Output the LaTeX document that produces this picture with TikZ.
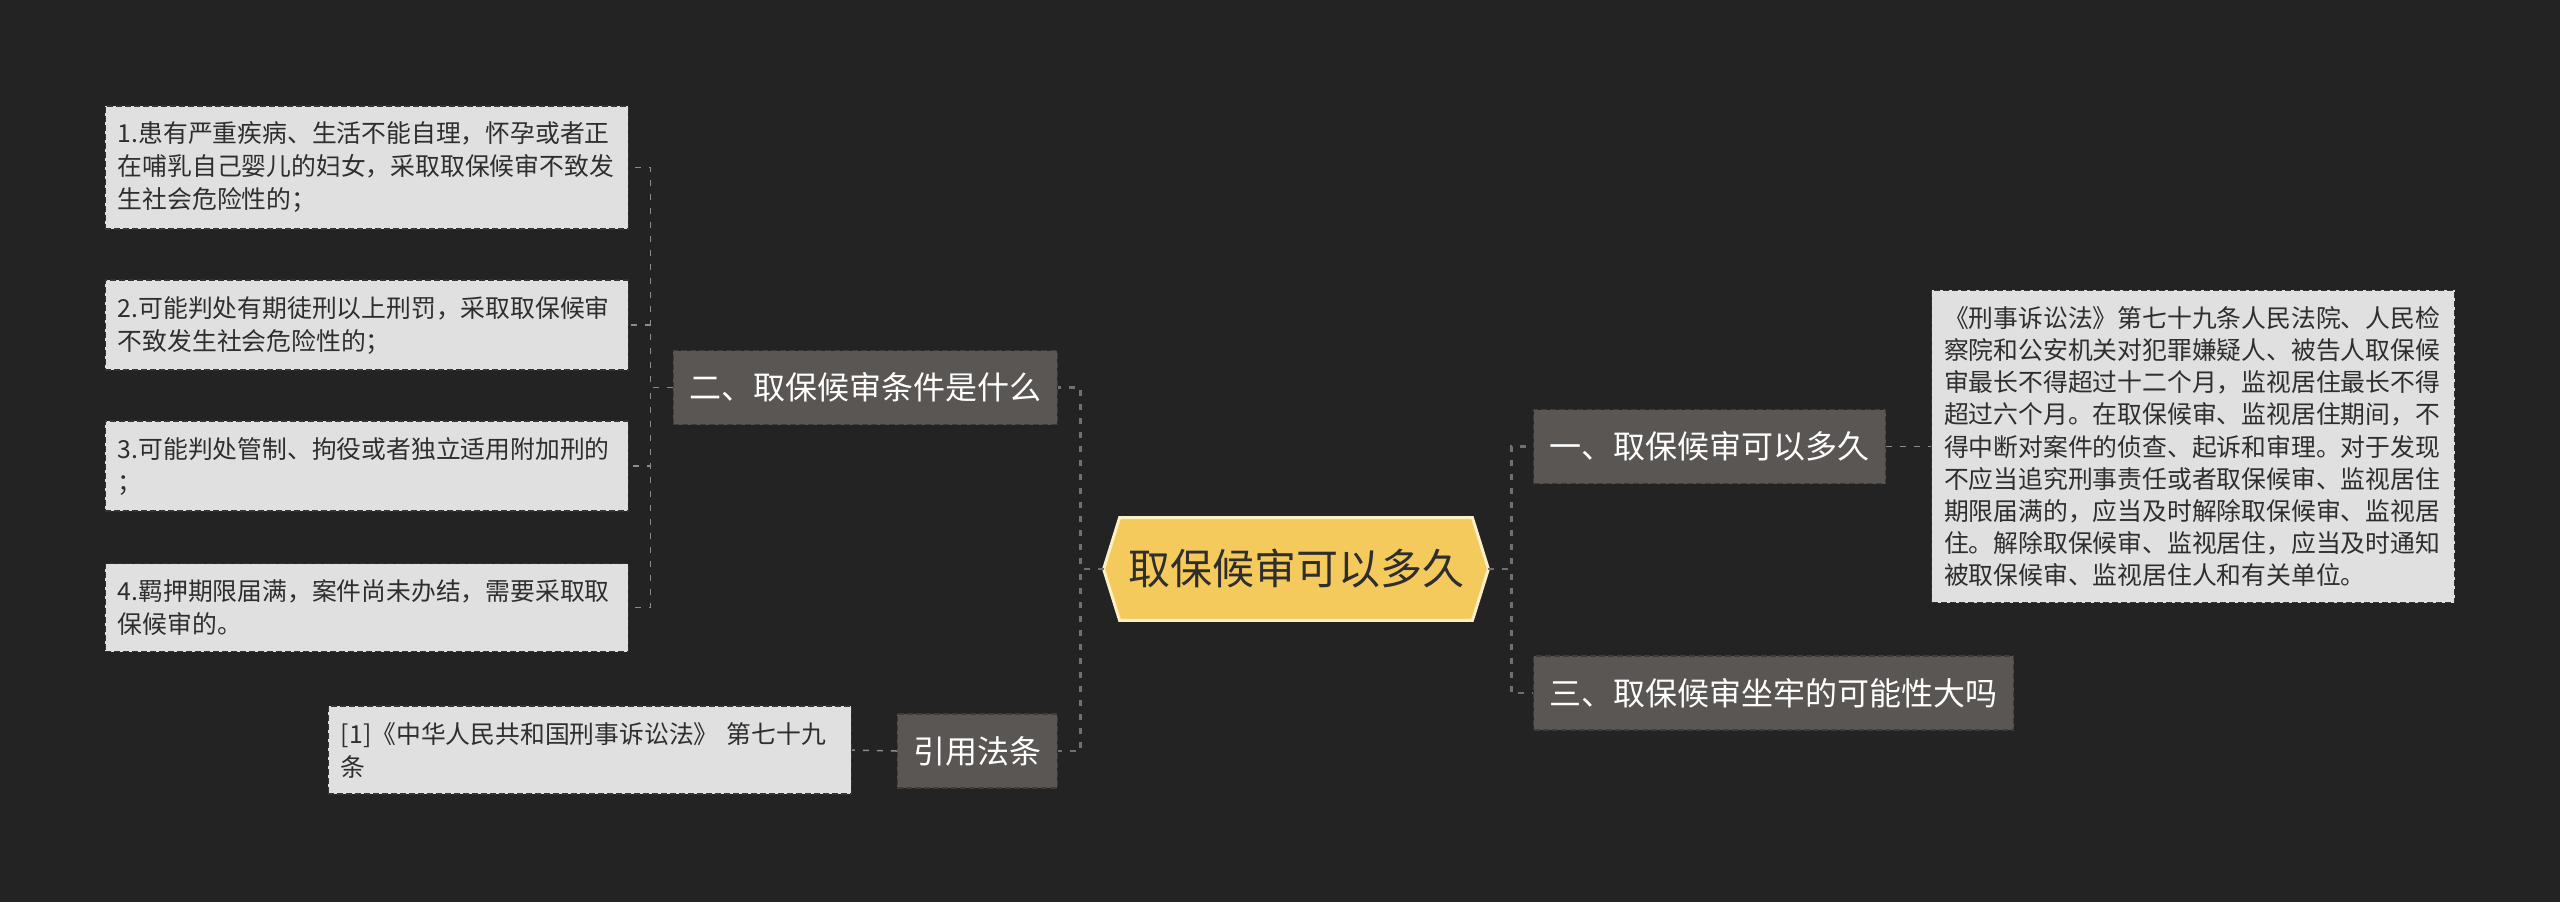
\documentclass[tikz,border=0pt]{standalone}
\usepackage{fontspec}
\newfontfamily\cjk{Noto Sans CJK SC}
\usepackage{tikz}
\usetikzlibrary{backgrounds}

\definecolor{bgdark}{HTML}{232323}
\definecolor{midgray}{HTML}{5A5654}
\definecolor{midedge}{HTML}{3E3C3B}
\definecolor{leafgray}{HTML}{E0E0E0}
\definecolor{leafedge}{HTML}{333333}
\definecolor{rootyellow}{HTML}{F5CA5C}
\definecolor{rootedge}{HTML}{FBEFC6}
\definecolor{linkgray}{HTML}{707070}
\definecolor{twiggray}{HTML}{8C8C8C}
\definecolor{textdark}{HTML}{2E2E2E}

\begin{document}
\begin{tikzpicture}[x=1pt,y=1pt,
  leaf/.style={draw=leafedge, dash pattern=on 3pt off 1.5pt, line width=0.6pt,
    fill=leafgray, text=textdark, align=left, text width=249pt,
    inner xsep=6.25pt, inner ysep=8pt,
    font=\cjk\fontsize{12.4}{16.5}\selectfont},
  topic/.style={draw=midedge, dash pattern=on 3pt off 1.5pt, line width=0.6pt,
    fill=midgray, text=white, inner xsep=8pt, minimum height=37pt,
    font=\cjk\fontsize{16}{19}\selectfont},
  rootnode/.style={text=textdark, inner sep=0pt, minimum width=176pt,
    minimum height=51pt, font=\cjk\fontsize{21}{25}\selectfont},
  link/.style={draw=linkgray, line width=1.25pt, dash pattern=on 3pt off 4pt},
  twig/.style={draw=twiggray, line width=0.75pt, dash pattern=on 3pt off 4pt}]
  \useasboundingbox (0,0) rectangle (1280,-451);

  % centre
  \node[rootnode] (root) at (648,-284.5) {取保候审可以多久};
  \begin{scope}[on background layer]
    \fill[bgdark] (0,0) rectangle (1280,-451);
    \filldraw[fill=rootyellow, draw=rootedge, line width=1.5pt]
      (root.north west) -- (root.north east) -- ([xshift=8pt]root.east)
      -- (root.south east) -- (root.south west) -- ([xshift=-8pt]root.west) -- cycle;
  \end{scope}

  % left side
  \node[topic, anchor=east] (cond) at (529,-193.75) {二、取保候审条件是什么};
  \node[topic, anchor=east] (cite) at (529,-375.5) {引用法条};

  \node[leaf, anchor=east] (c1) at (314.5,-83.75)
    {1.患有严重疾病、生活不能自理，怀孕或者正\\在哺乳自己婴儿的妇女，采取取保候审不致发\\生社会危险性的；};
  \node[leaf, anchor=east] (c2) at (314.5,-162.5)
    {2.可能判处有期徒刑以上刑罚，采取取保候审\\不致发生社会危险性的；};
  \node[leaf, anchor=east] (c3) at (314.5,-233)
    {3.可能判处管制、拘役或者独立适用附加刑的\\；};
  \node[leaf, anchor=east] (c4) at (314.5,-303.75)
    {4.羁押期限届满，案件尚未办结，需要采取取\\保候审的。};
  \node[leaf, anchor=east] (law) at (426,-375)
    {[1]《中华人民共和国刑事诉讼法》 第七十九\\条};

  % right side
  \node[topic, anchor=west] (q1) at (766.5,-223.25) {一、取保候审可以多久};
  \node[topic, anchor=west] (q3) at (766.5,-346.5) {三、取保候审坐牢的可能性大吗};

  \node[leaf, anchor=west, font=\cjk\fontsize{12.4}{16.1}\selectfont] (dur) at (965.5,-223.25)
    {《刑事诉讼法》第七十九条人民法院、人民检\\察院和公安机关对犯罪嫌疑人、被告人取保候\\审最长不得超过十二个月，监视居住最长不得\\超过六个月。在取保候审、监视居住期间，不\\得中断对案件的侦查、起诉和审理。对于发现\\不应当追究刑事责任或者取保候审、监视居住\\期限届满的，应当及时解除取保候审、监视居\\住。解除取保候审、监视居住，应当及时通知\\被取保候审、监视居住人和有关单位。};

  % connectors
  \draw[link] ([xshift=-8pt]root.west) -- ++(-11.5,0) |- (cond.east);
  \draw[link] ([xshift=-8pt]root.west) -- ++(-11.5,0) |- (cite.east);
  \draw[link] ([xshift=8pt]root.east) -- ++(11.5,0) |- (q1.west);
  \draw[link] ([xshift=8pt]root.east) -- ++(11.5,0) |- (q3.west);

  \foreach \leafname in {c1,c2,c3,c4}
    \draw[twig] (cond.west) -- ++(-11.25,0) |- (\leafname.east);
  \draw[twig] (cite.west) -- (law.east);
  \draw[twig] (q1.east) -- (dur.west);
\end{tikzpicture}
\end{document}
